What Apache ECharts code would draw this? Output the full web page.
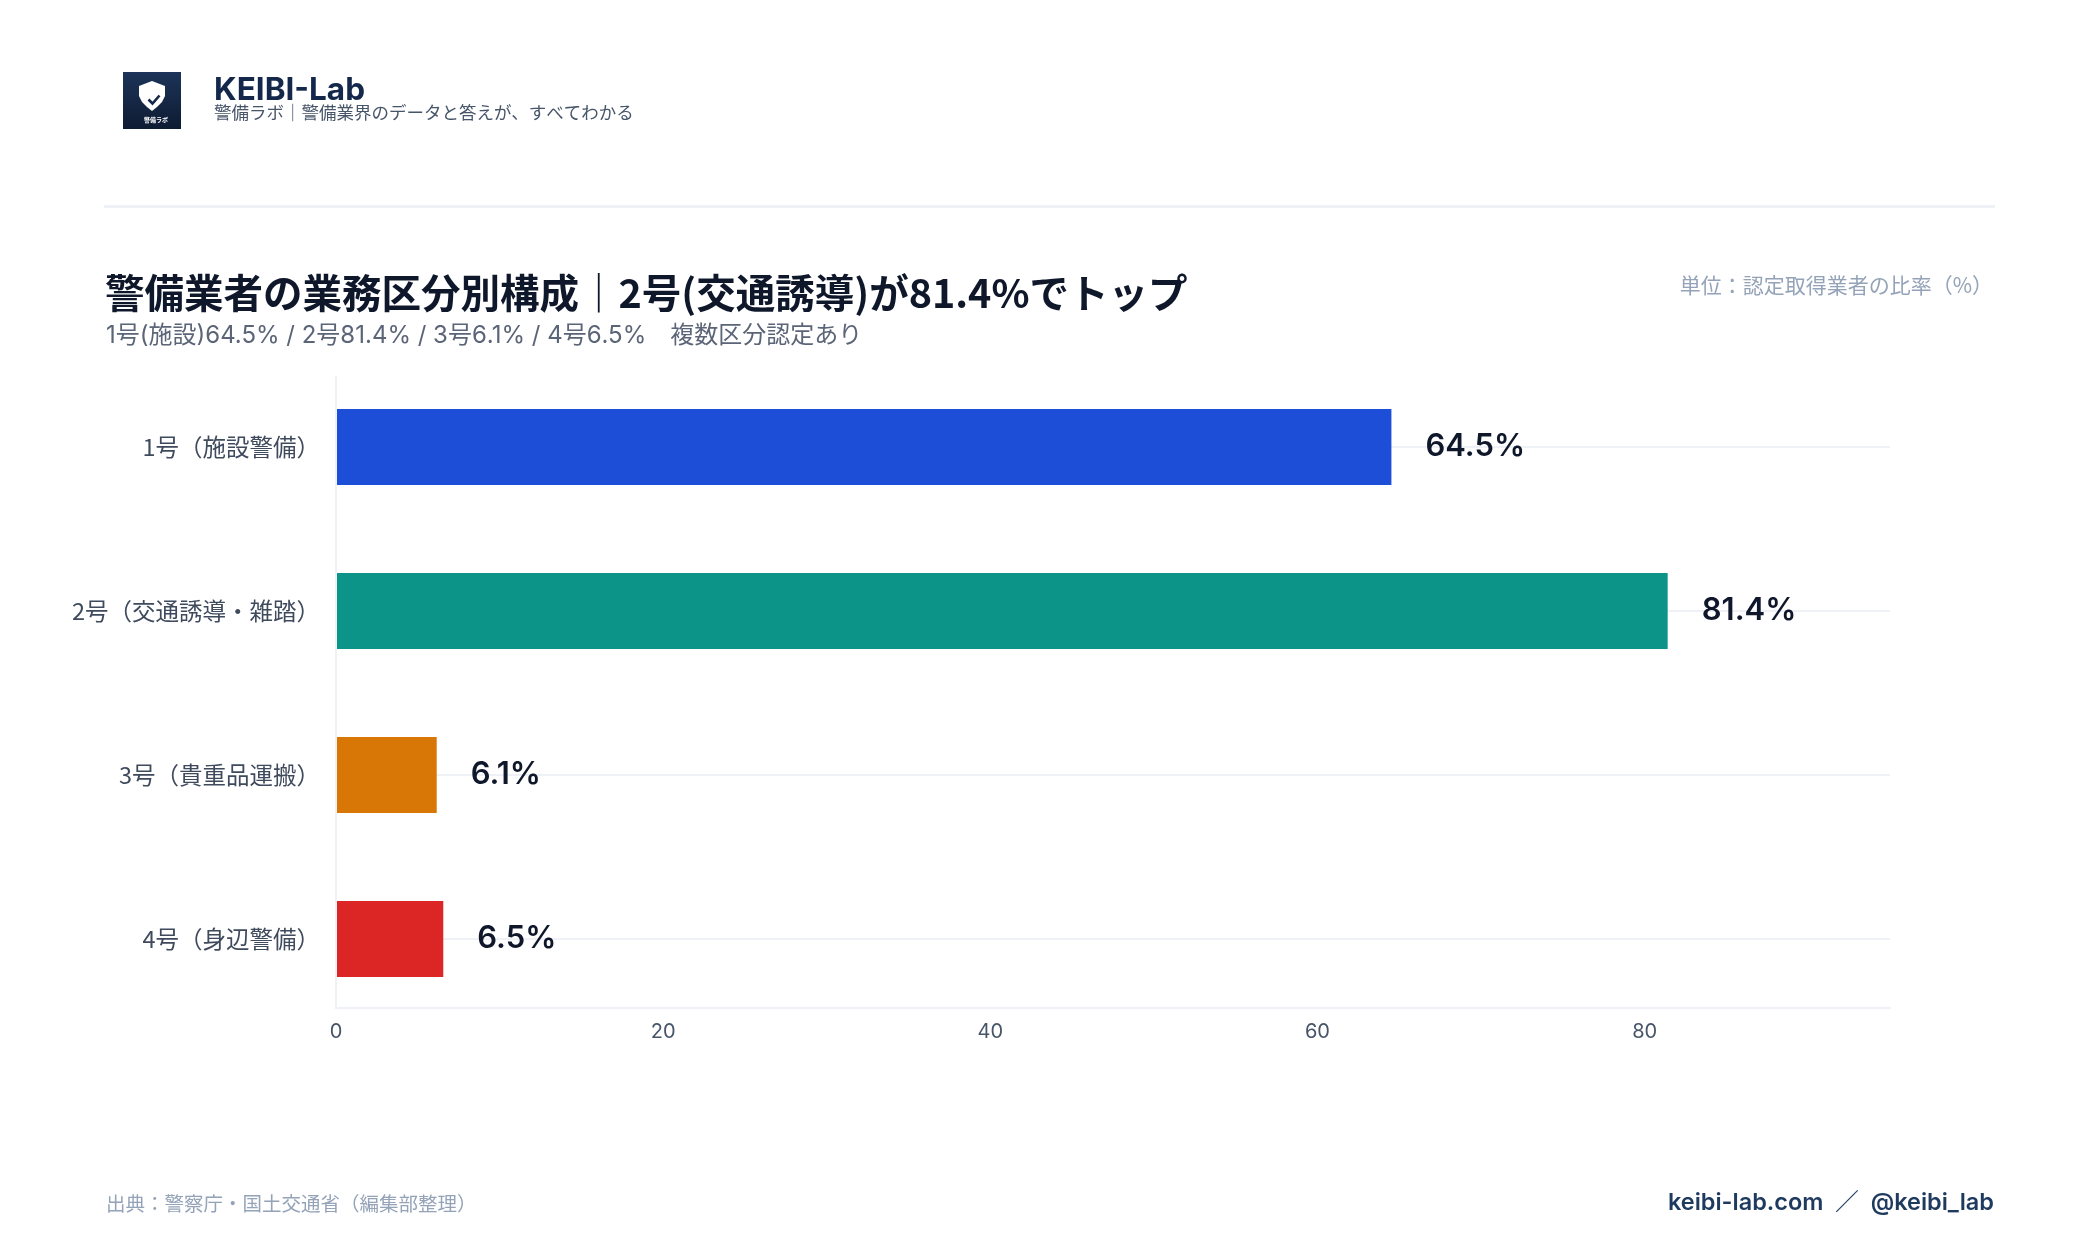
<!DOCTYPE html>
<html>
<head>
<meta charset="utf-8">
<script src="https://cdn.jsdelivr.net/npm/echarts@6/dist/echarts.min.js"></script>
<style>
html, body { margin: 0; padding: 0; background: #fff; }
#chart { width: 2100px; height: 1260px; }
</style>
</head>
<body>
<div id="chart"></div>
<script>
// データ
var categories = ['1号（施設警備）', '2号（交通誘導・雑踏）', '3号（貴重品運搬）', '4号（身辺警備）'];
var values = [64.5, 81.4, 6.1, 6.5];
var barColors = ['#1d4ed8', '#0d9488', '#d97706', '#dc2626'];
var xTicks = [0, 20, 40, 60, 80];

var JP = "'Noto Sans CJK JP', sans-serif";
var LAT = "Inter, 'Noto Sans CJK JP', sans-serif";

var chart = echarts.init(document.getElementById('chart'));

var option = {
    backgroundColor: '#ffffff',
    animation: false,
    grid: [
        // 棒グラフ用（カテゴリ中心を上下端に合わせる）
        { left: 337, right: 210, top: 447, bottom: 321, containLabel: false },
        // 枠線と目盛り用
        { left: 336, right: 210, top: 377, bottom: 252, containLabel: false }
    ],
    xAxis: [
        { gridIndex: 0, type: 'value', min: 0, max: 95, show: false },
        {
            gridIndex: 1, type: 'value', min: 0, max: 95, interval: 20,
            axisLine: { show: true, lineStyle: { color: '#eef2f7', width: 2 } },
            axisTick: { show: false },
            splitLine: { show: false },
            axisLabel: {
                color: '#475569', fontSize: 20, fontFamily: LAT, margin: 14,
                showMaxLabel: false,
                formatter: function (v) { return xTicks.indexOf(v) >= 0 ? String(v) : ''; }
            }
        }
    ],
    yAxis: [
        {
            gridIndex: 0, type: 'category', data: categories, inverse: true, boundaryGap: false,
            axisLine: { show: false },
            axisTick: { show: false },
            splitLine: { show: true, lineStyle: { color: '#eef2f7', width: 2 } },
            axisLabel: { color: '#3f4a5c', fontSize: 23.5, fontFamily: JP, margin: 17 }
        },
        {
            gridIndex: 1, type: 'value', min: 0, max: 1,
            axisLine: { show: true, lineStyle: { color: '#eef2f7', width: 2 } },
            axisTick: { show: false },
            axisLabel: { show: false },
            splitLine: { show: false }
        }
    ],
    series: [{
        type: 'bar',
        xAxisIndex: 0,
        yAxisIndex: 0,
        barWidth: 76,
        clip: false,
        z: 3,
        data: values.map(function (v, i) {
            return { value: v, itemStyle: { color: barColors[i] } };
        }),
        label: {
            show: true,
            position: 'right',
            distance: 34,
            color: '#0f172a',
            fontSize: 31,
            fontWeight: 600,
            fontFamily: LAT,
            formatter: function (p) { return p.value + '%'; }
        }
    }],
    graphic: [
        // ロゴ
        {
            type: 'rect', left: 123, top: 72,
            shape: { width: 58, height: 57 },
            style: {
                fill: new echarts.graphic.LinearGradient(0, 0, 0, 1, [
                    { offset: 0, color: '#1c3458' },
                    { offset: 1, color: '#0e1b33' }
                ])
            }
        },
        {
            type: 'polygon', left: 139, top: 81,
            shape: { points: [[13, 0], [26, 5], [26, 15], [23, 21], [18, 26], [13, 30], [8, 26], [3, 21], [0, 15], [0, 5]] },
            style: { fill: '#ffffff' }
        },
        {
            type: 'polyline', left: 146, top: 93,
            shape: { points: [[0, 4], [4, 8], [11, 0]] },
            style: { stroke: '#14284b', lineWidth: 2.6, fill: null }
        },
        {
            type: 'text', left: 144, top: 117,
            style: { text: '警備ラボ', fill: '#ffffff', font: '600 6px ' + JP }
        },
        {
            type: 'text', left: 214, top: 75,
            style: { text: 'KEIBI-Lab', fill: '#14284b', font: '700 31.5px ' + LAT }
        },
        {
            type: 'text', left: 214, top: 104,
            style: { text: '警備ラボ｜警備業界のデータと答えが、すべてわかる', fill: '#475569', font: '400 17.5px ' + JP }
        },
        // 区切り線
        {
            type: 'rect', left: 104, top: 205,
            shape: { width: 1891, height: 3 },
            style: { fill: '#eef2f7' }
        },
        // タイトル
        {
            type: 'text', left: 105, top: 273,
            style: { text: '警備業者の業務区分別構成｜2号(交通誘導)が81.4%でトップ', fill: '#0f172a', font: '700 39.5px ' + JP }
        },
        {
            type: 'text', left: 106, top: 324,
            style: { text: '1号(施設)64.5% / 2号81.4% / 3号6.1% / 4号6.5%　複数区分認定あり', fill: '#5b6577', font: '400 24px ' + LAT }
        },
        {
            type: 'text', right: 107, top: 275,
            style: { text: '単位：認定取得業者の比率（%）', fill: '#94a3b8', font: '400 21px ' + JP }
        },
        // フッター
        {
            type: 'text', left: 106, top: 1194,
            style: { text: '出典：警察庁・国土交通省（編集部整理）', fill: '#94a3b8', font: '400 19.5px ' + JP }
        },
        {
            type: 'text', right: 106, top: 1191,
            style: { text: 'keibi-lab.com  ／  @keibi_lab', fill: '#1e3a5f', font: '600 23.5px ' + LAT }
        }
    ]
};

chart.setOption(option);
window.addEventListener('resize', function () {
    chart.resize();
}, false);
</script>
</body>
</html>
